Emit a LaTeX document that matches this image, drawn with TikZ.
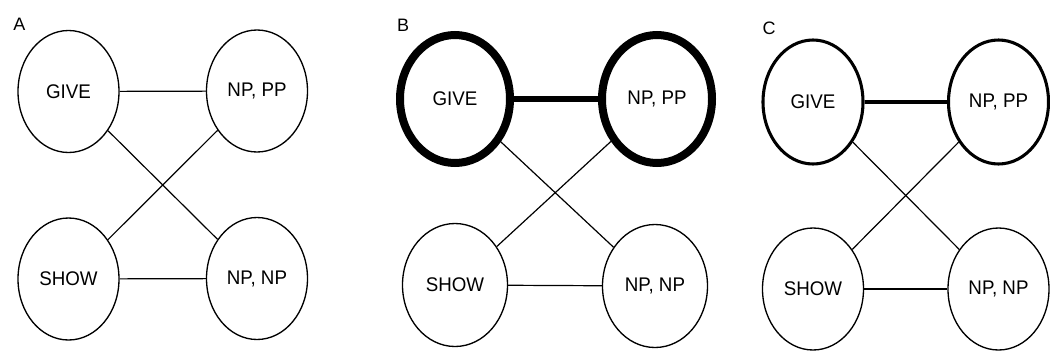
\documentclass[tikz,border=0pt]{standalone}
\usepackage{fontspec}
\setmainfont{Liberation Sans}
\newfontfamily\unitfont[FakeStretch=0.95]{Liberation Sans}
\usetikzlibrary{shapes.geometric}
\tikzset{
  unit/.style={ellipse, draw, inner sep=0pt, line width=1pt,
    font=\unitfont\fontsize{14.8}{16}\selectfont},
  wideunit/.style={unit, minimum width=101*0.75pt, minimum height=122*0.75pt},
  heavy/.style={line width=6pt},
  medium/.style={line width=2.3pt},
  link/.style={line width=0.9pt},
  panellabel/.style={font=\fontsize{13.5}{15}\selectfont, inner sep=0pt}
}
\begin{document}
\begin{tikzpicture}[x=0.75pt, y=-0.75pt]
\useasboundingbox (0,0) rectangle (1050,351);

% Panel A: all units at rest
\node[panellabel] (la) at (19.5,24) {A};
\node[wideunit] (ga) at (68.5,91.5) {GIVE};
\node[wideunit] (pa) at (257,91) {NP, PP};
\node[wideunit] (sa) at (68.5,279) {SHOW};
\node[wideunit] (na) at (257,278.5) {NP, NP};
\draw[link] (ga) -- (pa);
\draw[link] (sa) -- (na);
\draw[link] (ga) -- (na);
\draw[link] (sa) -- (pa);

% Panel B: strongly active GIVE / NP, PP pair
\node[panellabel] (lb) at (403,25) {B};
\node[unit, heavy, minimum width=110*0.75pt, minimum height=128*0.75pt] (gb) at (455,99) {GIVE};
\node[unit, heavy, minimum width=110*0.75pt, minimum height=128*0.75pt] (pb) at (657,99) {NP, PP};
\node[unit, minimum width=105*0.75pt, minimum height=123*0.75pt] (sb) at (455,285) {SHOW};
\node[unit, minimum width=105*0.75pt, minimum height=123*0.75pt] (nb) at (655,286) {NP, NP};
\draw[line width=5pt] (gb) -- (pb);
\draw[link] (sb) -- (nb);
\draw[link] (gb) -- (nb);
\draw[link] (sb) -- (pb);

% Panel C: moderately active GIVE / NP, PP pair
\node[panellabel] (lc) at (769,28) {C};
\node[unit, medium, minimum width=100*0.75pt, minimum height=124*0.75pt] (gc) at (813,102) {GIVE};
\node[unit, medium, minimum width=100*0.75pt, minimum height=124*0.75pt] (pc) at (998.5,102) {NP, PP};
\node[wideunit] (sc) at (813,289) {SHOW};
\node[wideunit] (nc) at (998.5,289) {NP, NP};
\draw[line width=2.3pt] (gc) -- (pc);
\draw[link] (sc) -- (nc);
\draw[link] (gc) -- (nc);
\draw[link] (sc) -- (pc);
\end{tikzpicture}
\end{document}
